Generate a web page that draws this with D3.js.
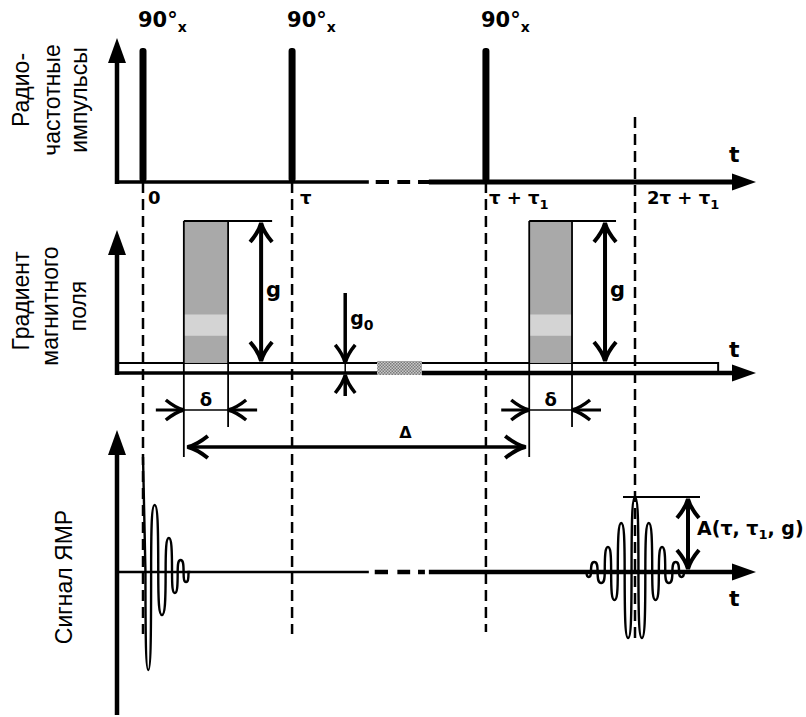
<!DOCTYPE html>
<html>
<head>
<meta charset="utf-8">
<script src="https://cdn.jsdelivr.net/npm/d3@7"></script>
<style>
  body { margin: 0; background: #fff; }
  svg text { fill: #000; }
  .title { font-family: "Liberation Sans", Arial, sans-serif; font-size: 23px; }
  .bold { font-family: "DejaVu Sans", Verdana, sans-serif; font-weight: bold; }
</style>
</head>
<body>
<svg id="chart" width="806" height="717"></svg>
<script>
// ---- sequence data (time in diagram units, 0 = first pulse, 100 = echo) ----
const rfPulseTimes = [0, 30.3, 69.7];
const rfPulseLabel = "90°";
const rfPulsePhase = "x";
const timeMarkTimes = [0, 30.3, 69.7, 100];
const timeMarkMain = ["0", "τ", "τ + τ", "2τ + τ"];
const timeMarkSub = ["", "", "1", "1"];
const echoTime = 100;

const gradStarts = [8.3, 78.5];
const gradEnds = [17.3, 87.2];
const gradAmplitude = 10;
const gradBackground = 0.66;
const gradBandLow = 2.45, gradBandHigh = 3.85;   // lighter stripe inside each pulse
const gradLineEnd = 116.9;

// extrema of the free induction decay and of the echo (signal units)
const fidTimes = [0, 1.0, 2.3, 3.9, 5.3, 6.5, 7.6, 8.9, 9.6];
const fidValues = [1.15, -0.98, 0.67, -0.43, 0.34, -0.21, 0.12, -0.10, 0];

const echoTimes = [89.8, 90.5, 91.6, 93.2, 94.5, 95.8, 97.2, 98.6, 100,
                   101.4, 102.8, 104.2, 105.5, 106.8, 108.4, 109.5, 110.4];
const echoValues = [0, -0.05, 0.10, -0.11, 0.25, -0.28, 0.49, -0.66, 0.75,
                    -0.66, 0.49, -0.28, 0.25, -0.11, 0.10, -0.05, 0];
const echoAmplitude = 0.75;

const breakStart = 45.9, breakEnd = 58.1;   // omitted stretch of the time axis
const hatchStart = 47.6, hatchEnd = 56.7;
const g0Time = 41.1;

const titlesRF = ["Радио-", "частотные", "импульсы"];
const titlesGrad = ["Градиент", "магнитного", "поля"];
const titlesSig = ["Сигнал ЯМР"];

// ---- scales ----
const x = d3.scaleLinear().domain([0, 100]).range([143, 635]);
const yRF = d3.scaleLinear().domain([0, 1]).range([182, 48]);
const yGrad = d3.scaleLinear().domain([0, 10]).range([373, 221]);
const ySig = d3.scaleLinear().domain([-1, 1]).range([672, 472]);

const tOrigin = x.invert(117);
const tArrow = x.invert(756);

const svg = d3.select("#chart");
const defs = svg.append("defs");
const pat = defs.append("pattern").attr("id", "hatch")
  .attr("width", 3).attr("height", 3).attr("patternUnits", "userSpaceOnUse");
pat.append("rect").attr("width", 3).attr("height", 3).attr("fill", "#c8c8c8");
pat.append("rect").attr("width", 1.5).attr("height", 1.5).attr("fill", "#7a7a7a");
pat.append("rect").attr("x", 1.5).attr("y", 1.5).attr("width", 1.5).attr("height", 1.5).attr("fill", "#7a7a7a");

function line(g, x1, y1, x2, y2, w, dash) {
  const l = g.append("line").attr("x1", x1).attr("y1", y1).attr("x2", x2).attr("y2", y2)
    .attr("stroke", "#000").attr("stroke-width", w);
  if (dash) l.attr("stroke-dasharray", dash);
  return l;
}
// filled triangular axis head
function triHead(g, tx, ty, dx, dy, L, W) {
  const nx = -dy, ny = dx;
  g.append("path").attr("fill", "#000")
    .attr("d", `M${tx},${ty}L${tx - L * dx + W * nx},${ty - L * dy + W * ny}L${tx - L * dx - W * nx},${ty - L * dy - W * ny}Z`);
}
// open chevron arrow head
function chevron(g, tx, ty, dx, dy, L = 19, W = 11, sw = 4) {
  const nx = -dy, ny = dx;
  const a = [tx - L * dx + W * nx, ty - L * dy + W * ny];
  const b = [tx - L * dx - W * nx, ty - L * dy - W * ny];
  const c1 = [tx - 0.45 * L * dx + 0.2 * W * nx, ty - 0.45 * L * dy + 0.2 * W * ny];
  const c2 = [tx - 0.45 * L * dx - 0.2 * W * nx, ty - 0.45 * L * dy - 0.2 * W * ny];
  g.append("path").attr("fill", "none").attr("stroke", "#000").attr("stroke-width", sw)
    .attr("stroke-linejoin", "miter")
    .attr("d", `M${a}Q${c1} ${tx},${ty}Q${c2} ${b}`);
}
function vAxis(g, bottom, tip) {
  const ax = x(tOrigin);
  line(g, ax, bottom, ax, tip + 15, 4.5);
  triHead(g, ax, tip, 0, -1, 25, 9);
}
function hAxisHead(g, y) {
  triHead(g, x(tArrow), y, 1, 0, 24, 8.5);
}
function titleBlock(g, lines, baselines, centers) {
  lines.forEach((s, i) => {
    g.append("text").attr("class", "title")
      .attr("transform", `translate(${baselines[i]},${centers[i]}) rotate(-90)`)
      .attr("text-anchor", "middle").text(s);
  });
}
function subText(g, px, py, main, sub, size, subSize, anchor) {
  const t = g.append("text").attr("class", "bold").attr("x", px).attr("y", py)
    .attr("font-size", size);
  if (anchor) t.attr("text-anchor", anchor);
  t.append("tspan").text(main);
  if (sub) t.append("tspan").attr("font-size", subSize).attr("dy", size * 0.25).text(sub);
  return t;
}
// oscillating signal drawn as a chain of narrow oval lobes, one per extremum;
// each lobe spans the midpoints to its neighbours
const KV = 0.72, KH = 0.8;
function lobePath(times, values) {
  const base = ySig(0);
  const n = times.length;
  const mid = d3.range(n - 1).map(i => x((times[i] + times[i + 1]) / 2));
  const p = d3.path();
  p.moveTo(x(times[0]), ySig(values[0]));
  p.lineTo(mid[0], base);
  for (let i = 1; i < n - 1; i++) {
    const xa = mid[i - 1], xb = mid[i];
    const r = (xb - xa) / 2, cx = (xa + xb) / 2;
    const yp = ySig(values[i]);
    const ym = base + KV * (yp - base);
    p.bezierCurveTo(xa, ym, cx - KH * r, yp, cx, yp);
    p.bezierCurveTo(cx + KH * r, yp, xb, ym, xb, base);
  }
  p.lineTo(x(times[n - 1]), ySig(values[n - 1]));
  return p.toString();
}

const gDash = svg.append("g");
const gRF = svg.append("g");
const gGrad = svg.append("g");
const gSig = svg.append("g");

// ---- vertical guide lines at the event times ----
rfPulseTimes.forEach((t, i) => {
  line(gDash, x(t), yRF(0), x(t), [634, 634, 632][i], 2.5, "11,6");
});

// ---- RF pulse panel ----
titleBlock(gRF, titlesRF, [29, 60, 87], [90, 100, 100]);
vAxis(gRF, yRF(0) + 2, 38);
line(gRF, x(tOrigin), yRF(0), x(breakStart), yRF(0), 3.5);
[[47.3, 50.0], [51.7, 54.3], [55.9, 58.3]].forEach(d => line(gRF, x(d[0]), yRF(0), x(d[1]), yRF(0), 4));
line(gRF, x(breakEnd), yRF(0), x(tArrow) - 18, yRF(0), 5);
hAxisHead(gRF, yRF(0));
rfPulseTimes.forEach(t => {
  gRF.append("rect").attr("x", x(t) - 3.5).attr("y", yRF(1)).attr("width", 7)
    .attr("height", yRF(0) - yRF(1)).attr("rx", 3).attr("fill", "#000");
  subText(gRF, x(t) - 5, 27, rfPulseLabel, rfPulsePhase, 21, 14);
});
const markOffsets = [5, 8, 3, 12];
timeMarkTimes.forEach((t, i) => {
  subText(gRF, x(t) + markOffsets[i], 204, timeMarkMain[i], timeMarkSub[i], 18, 13);
});
gRF.append("text").attr("class", "bold").attr("x", 729).attr("y", 162).attr("font-size", 22).text("t");

// ---- gradient panel ----
titleBlock(gGrad, titlesGrad, [29, 58, 86], [301, 306, 306]);
vAxis(gGrad, yGrad(0) + 2, 230);
line(gGrad, x(tOrigin), yGrad(0), x(hatchStart), yGrad(0), 3.5);
line(gGrad, x(hatchEnd), yGrad(0), x(tArrow) - 18, yGrad(0), 4.5);
hAxisHead(gGrad, yGrad(0));
line(gGrad, x(tOrigin), yGrad(gradBackground), x(hatchStart), yGrad(gradBackground), 2);
line(gGrad, x(hatchEnd), yGrad(gradBackground), x(gradLineEnd), yGrad(gradBackground), 2);
line(gGrad, x(gradLineEnd), yGrad(gradBackground) - 1, x(gradLineEnd), yGrad(0), 2);
gGrad.append("rect").attr("x", x(hatchStart)).attr("y", yGrad(gradBackground) - 2)
  .attr("width", x(hatchEnd) - x(hatchStart)).attr("height", yGrad(0) - yGrad(gradBackground) + 4)
  .attr("fill", "url(#hatch)");

gradStarts.forEach((s, i) => {
  const e = gradEnds[i];
  const x0 = x(s), x1 = x(e);
  gGrad.append("rect").attr("x", x0).attr("y", yGrad(gradAmplitude))
    .attr("width", x1 - x0).attr("height", yGrad(gradBackground) - yGrad(gradAmplitude))
    .attr("fill", "#a9a9a9");
  gGrad.append("rect").attr("x", x0).attr("y", yGrad(gradBandHigh))
    .attr("width", x1 - x0).attr("height", yGrad(gradBandLow) - yGrad(gradBandHigh))
    .attr("fill", "#d4d4d4");
  // pulse outline and extension lines
  line(gGrad, x0, yGrad(gradAmplitude), x0, 457, 1.8);
  line(gGrad, x1, yGrad(gradAmplitude), x1, 427, 1.8);
  line(gGrad, x0, yGrad(gradAmplitude), x1 + 44, yGrad(gradAmplitude), 1.8);
  // amplitude arrow g
  const gx = x1 + 33;
  line(gGrad, gx, yGrad(gradAmplitude) + 4, gx, yGrad(gradBackground) - 4, 4);
  chevron(gGrad, gx, yGrad(gradAmplitude) + 2, 0, -1);
  chevron(gGrad, gx, yGrad(gradBackground) - 2, 0, 1);
  gGrad.append("text").attr("class", "bold").attr("x", gx + 5).attr("y", 297)
    .attr("font-size", 21).text("g");
  // duration delta
  const dy = 410;
  line(gGrad, x0, dy, x1, dy, 1.6);
  line(gGrad, x0 - 28, dy, x0, dy, 3);
  chevron(gGrad, x0, dy, 1, 0, 18, 10, 3.5);
  line(gGrad, x1, dy, x1 + 29, dy, 3);
  chevron(gGrad, x1, dy, -1, 0, 18, 10, 3.5);
  gGrad.append("text").attr("class", "bold").attr("x", (x0 + x1) / 2).attr("y", 406)
    .attr("text-anchor", "middle").attr("font-size", 18).text("δ");
});

// background gradient arrows g0
const g0x = x(g0Time);
line(gGrad, g0x, 293, g0x, yGrad(gradBackground) - 2, 3.5);
chevron(gGrad, g0x, yGrad(gradBackground), 0, 1, 18, 10, 3.5);
line(gGrad, g0x, yGrad(gradBackground), g0x, yGrad(0), 1.5);
line(gGrad, g0x, yGrad(0) + 3, g0x, 396, 3.5);
chevron(gGrad, g0x, yGrad(0) + 2, 0, -1, 18, 10, 3.5);
subText(gGrad, g0x + 5, 325, "g", "0", 19, 14);

// separation Delta between gradient pulses
const dY = 447;
line(gGrad, x(gradStarts[0]) + 3, dY, x(gradStarts[1]) - 3, dY, 3.5);
chevron(gGrad, x(gradStarts[0]) + 4, dY, -1, 0, 20, 11, 4);
chevron(gGrad, x(gradStarts[1]) - 4, dY, 1, 0, 20, 11, 4);
gGrad.append("text").attr("class", "bold").attr("x", (x(gradStarts[0]) + x(gradStarts[1])) / 2 + 49)
  .attr("y", 438).attr("text-anchor", "middle").attr("font-size", 16).text("Δ");
gGrad.append("text").attr("class", "bold").attr("x", 729).attr("y", 357).attr("font-size", 22).text("t");

// ---- NMR signal panel ----
titleBlock(gSig, titlesSig, [72], [577]);
vAxis(gSig, 715, 430);
line(gSig, x(tOrigin), ySig(0), x(breakStart), ySig(0), 2.5);
[[47.1, 49.8], [51.7, 54.3], [55.9, 57.3]].forEach(d => line(gSig, x(d[0]), ySig(0), x(d[1]), ySig(0), 4.5));
line(gSig, x(breakEnd), ySig(0), x(tArrow) - 18, ySig(0), 4.5);
hAxisHead(gSig, ySig(0));

gSig.append("path").attr("d", lobePath(fidTimes, fidValues))
  .attr("fill", "none").attr("stroke", "#000").attr("stroke-width", 2.4);
gSig.append("path").attr("d", lobePath(echoTimes, echoValues))
  .attr("fill", "none").attr("stroke", "#000").attr("stroke-width", 2.4);

// echo centre guide
line(gDash, x(echoTime), 117, x(echoTime), 640, 2.5, "11,6");
gDash.raise();

// echo amplitude A
const ex = x(echoTime);
line(gSig, ex - 12, ySig(echoAmplitude), ex + 65, ySig(echoAmplitude), 2);
const ax = ex + 53;
line(gSig, ax, ySig(echoAmplitude) + 4, ax, ySig(0) - 4, 4);
chevron(gSig, ax, ySig(echoAmplitude) + 2, 0, -1);
chevron(gSig, ax, ySig(0) - 3, 0, 1);
const at = gSig.append("text").attr("class", "bold").attr("x", ax + 9).attr("y", 535).attr("font-size", 19);
at.append("tspan").text("A(τ, τ");
at.append("tspan").attr("font-size", 13).attr("dy", 4).text("1");
at.append("tspan").attr("dy", -4).text(", g)");
gSig.append("text").attr("class", "bold").attr("x", 729).attr("y", 606).attr("font-size", 22).text("t");
</script>
</body>
</html>
